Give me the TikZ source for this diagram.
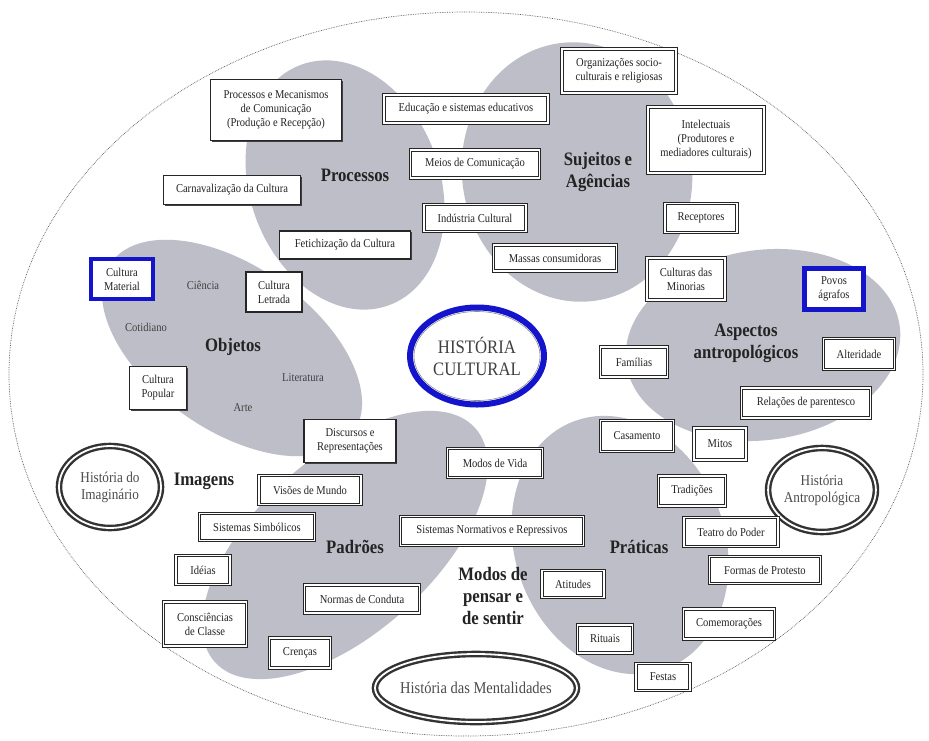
\documentclass[tikz,border=0pt]{standalone}
\usepackage{fontspec}
\setmainfont{Liberation Serif}[FakeStretch=0.88]
\usetikzlibrary{shapes.geometric,shadows}
\definecolor{blobgray}{RGB}{190,190,201}
\definecolor{inkgray}{RGB}{35,35,35}
\definecolor{hcblue}{RGB}{20,20,205}
\newcommand\bxf{\fontsize{12}{14}\selectfont}
\newcommand\lbf{\fontsize{19}{22}\selectfont\bfseries}
\newcommand\hif{\fontsize{15}{17}\selectfont}
\begin{document}
\begin{tikzpicture}[x=1pt,y=-1pt,
  dbox/.style={draw=black!85, line width=1.2pt, double=white, double distance=1.5pt, fill=white, inner sep=1pt, align=center, font=\bxf, text=inkgray},
  sbox/.style={draw=black!85, line width=1.5pt, fill=white, inner sep=1pt, align=center, font=\bxf, text=inkgray, drop shadow={shadow xshift=1.2pt, shadow yshift=-1.2pt, fill=black!75, opacity=1}},
  bbox/.style={draw=hcblue, line width=4.5pt, fill=white, inner sep=1pt, align=center, font=\bxf, text=inkgray},
  ring/.style={ellipse, draw=black!80, line width=2.4pt, double=white, double distance=1.8pt, fill=white, inner sep=0pt, align=center, font=\hif, text=black!70},
  lab/.style={font=\lbf, text=inkgray, align=center, inner sep=0pt},
  word/.style={font=\bxf, text=black!75, inner sep=0pt},
  blob/.style={fill=blobgray}]
\fill[white] (0,0) rectangle (929,740);
\useasboundingbox (0,0) rectangle (929,740);
% outer boundary
\draw[black!65, densely dotted, line width=0.7pt] (466,374) ellipse [x radius=457, y radius=362];
% blobs
\fill[blob, rotate around={20:(345,185)}] (345,185) ellipse [x radius=95, y radius=128];
\fill[blob, rotate around={8:(577,172)}] (577,172) ellipse [x radius=115, y radius=130];
\fill[blob, rotate around={-35:(232,348)}] (232,348) ellipse [x radius=148, y radius=82];
\fill[blob, rotate around={8:(763,345)}] (763,345) ellipse [x radius=138, y radius=95];
\fill[blob, rotate around={42:(345,545)}] (345,545) ellipse [x radius=175, y radius=88];
\fill[blob, rotate around={20:(620,545)}] (620,545) ellipse [x radius=105, y radius=132];
% centre
\node[ellipse, draw=hcblue, line width=6pt, fill=white, minimum width=134, minimum height=97, inner sep=0pt, align=center, font=\fontsize{19}{22}\selectfont, text=black!75] (hc) at (477,356) {HISTÓRIA\\CULTURAL};
\draw[black!45, line width=0.6pt] (hc.center) ellipse [x radius=63, y radius=44.5];
% rings
\node[ring, minimum width=102, minimum height=82] (himag) at (110,487) {História do\\Imaginário};
\node[ring, minimum width=100, minimum height=84] (hantr) at (822,490) {História\\Antropológica};
\node[ring, minimum width=202, minimum height=68] (hment) at (476,688) {};
\node[font=\fontsize{16.5}{18}\selectfont, text=black!70, inner sep=0pt] (hmentt) at (hment.center) {História das Mentalidades};
% category labels
\node[lab] (lproc) at (355,175) {Processos};
\node[lab] (lsuj) at (598,172) {Sujeitos e\\Agências};
\node[lab] (lobj) at (233,347) {Objetos};
\node[lab] (lasp) at (746,343) {Aspectos\\antropológicos};
\node[lab] (limg) at (204,481) {Imagens};
\node[lab] (lpad) at (355,547) {Padrões};
\node[lab] (lprat) at (639,547) {Práticas};
\node[lab] (lmod) at (493,596) {Modos de\\pensar e\\de sentir};
% plain words
\node[word] (cien) at (203,285) {Ciência};
\node[word] (coti) at (146,327) {Cotidiano};
\node[word] (lite) at (303,378) {Literatura};
\node[word] (arte) at (243,408) {Arte};
% single boxes
\node[sbox, minimum width=131, minimum height=61] (procm) at (276,110) {Processos e Mecanismos\\de Comunicação\\(Produção e Recepção)};
\node[sbox, minimum width=137, minimum height=29] (carn) at (232,190) {Carnavalização da Cultura};
\node[sbox, minimum width=131, minimum height=28] (fetich) at (345,245) {Fetichização da Cultura};
\node[sbox, minimum width=56, minimum height=40] (letr) at (274,292) {Cultura\\Letrada};
\node[sbox, minimum width=57, minimum height=43] (popu) at (158,388) {Cultura\\Popular};
\node[sbox, minimum width=92, minimum height=43] (disc) at (350,441) {Discursos e\\Representações};
% blue boxes
\node[bbox, minimum width=62, minimum height=40] (mate) at (122,279) {Cultura\\Material};
\node[bbox, minimum width=59, minimum height=41] (povos) at (834,289) {Povos\\ágrafos};
% double boxes
\node[dbox, minimum width=164, minimum height=28] (edu) at (466,109) {Educação e sistemas educativos};
\node[dbox, minimum width=129, minimum height=28] (meios) at (475,164) {Meios de Comunicação};
\node[dbox, minimum width=102, minimum height=27] (indu) at (475,218) {Indústria Cultural};
\node[dbox, minimum width=123, minimum height=26] (massas) at (555,258) {Massas consumidoras};
\node[dbox, minimum width=114, minimum height=44] (org) at (619,71) {Organizações socio-\\culturais e religiosas};
\node[dbox, minimum width=116, minimum height=66] (intel) at (706,140) {Intelectuais\\(Produtores e\\mediadores culturais)};
\node[dbox, minimum width=72, minimum height=29] (recep) at (701,218) {Receptores};
\node[dbox, minimum width=78, minimum height=42] (minor) at (686,279) {Culturas das\\Minorias};
\node[dbox, minimum width=71, minimum height=31] (alter) at (859,354) {Alteridade};
\node[dbox, minimum width=67, minimum height=30] (fami) at (634,362) {Famílias};
\node[dbox, minimum width=129, minimum height=30] (rela) at (806,403) {Relações de parentesco};
\node[dbox, minimum width=73, minimum height=31] (casa) at (637,436) {Casamento};
\node[dbox, minimum width=52, minimum height=32] (mitos) at (720,444) {Mitos};
\node[dbox, minimum width=95, minimum height=29] (mvida) at (495,463) {Modos de Vida};
\node[dbox, minimum width=67, minimum height=30] (trad) at (692,491) {Tradições};
\node[dbox, minimum width=183, minimum height=29] (sisn) at (492,531) {Sistemas Normativos e Repressivos};
\node[dbox, minimum width=94, minimum height=29] (teatro) at (731,532) {Teatro do Poder};
\node[dbox, minimum width=111, minimum height=27] (formas) at (765,570) {Formas de Protesto};
\node[dbox, minimum width=62, minimum height=27] (atit) at (573,584) {Atitudes};
\node[dbox, minimum width=91, minimum height=30] (comem) at (729,624) {Comemorações};
\node[dbox, minimum width=55, minimum height=28] (ritu) at (605,639) {Rituais};
\node[dbox, minimum width=54, minimum height=27] (festas) at (663,677) {Festas};
\node[dbox, minimum width=102, minimum height=29] (visoes) at (310,490) {Visões de Mundo};
\node[dbox, minimum width=115, minimum height=27] (sims) at (257,527) {Sistemas Simbólicos};
\node[dbox, minimum width=54, minimum height=29] (ideias) at (203,570) {Idéias};
\node[dbox, minimum width=115, minimum height=28] (normas) at (362,599) {Normas de Conduta};
\node[dbox, minimum width=83, minimum height=44] (consc) at (205,624) {Consciências\\de Classe};
\node[dbox, minimum width=61, minimum height=30] (cren) at (300,653) {Crenças};
\end{tikzpicture}
\end{document}
